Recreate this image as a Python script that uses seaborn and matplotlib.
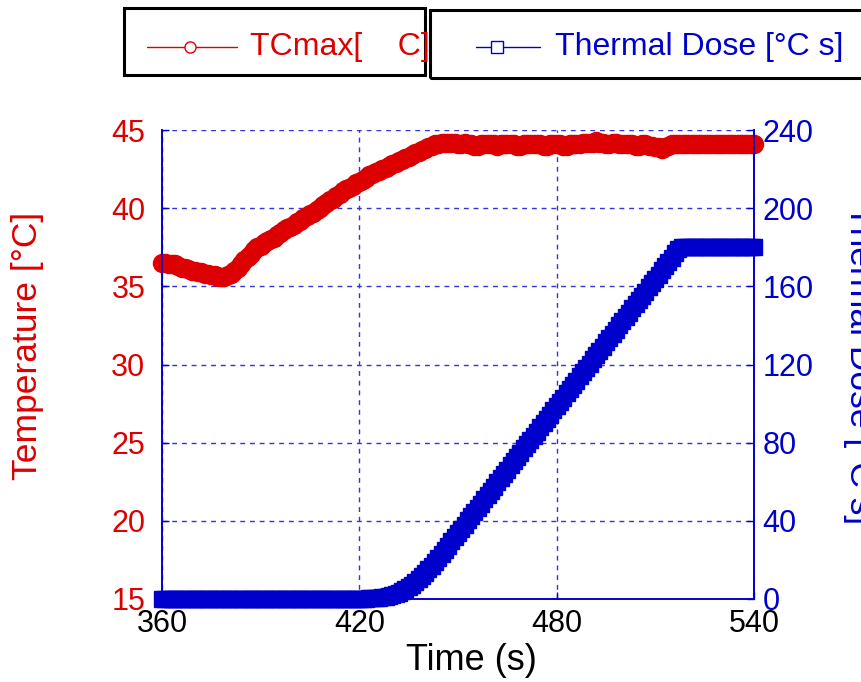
import numpy as np
import pandas as pd
import matplotlib
matplotlib.use("Agg")
import matplotlib.pyplot as plt
import seaborn as sns
from matplotlib.lines import Line2D
from matplotlib.patches import Rectangle

# ---------------- data (1 s sampling) ----------------
time_s = list(range(360, 541))

tc_max = (
    [36.5, 36.5, 36.4, 36.4, 36.4, 36.3, 36.2, 36.2, 36.1, 36.0,          # 360-369
     36.0, 35.9, 35.9, 35.8, 35.8, 35.7, 35.7, 35.6, 35.6,                # 370-378
     35.6, 35.7, 35.8, 36.0, 36.2, 36.4, 36.7, 36.9, 37.1, 37.3,          # 379-388
     37.5, 37.6, 37.8, 37.9, 38.0, 38.1, 38.3, 38.4, 38.6, 38.7, 38.8,    # 389-399
     38.9, 39.1, 39.2, 39.4, 39.5, 39.6, 39.7, 39.9, 40.0, 40.2,          # 400-409
     40.3, 40.5, 40.6, 40.8, 40.9, 41.1, 41.2, 41.3, 41.4, 41.6,          # 410-419
     41.7, 41.8, 41.9, 42.1, 42.2, 42.3, 42.4, 42.5, 42.6, 42.7,          # 420-429
     42.8, 42.9, 43.0, 43.1, 43.2, 43.3, 43.4, 43.5, 43.6, 43.7,          # 430-439
     43.8, 43.9, 44.0, 44.1, 44.1, 44.2, 44.2, 44.2, 44.2, 44.2,          # 440-449
     44.1, 44.1, 44.2, 44.1, 44.1, 44.0, 44.0, 44.1, 44.1, 44.1,          # 450-459
     44.1, 44.1, 44.0, 44.1, 44.1, 44.1, 44.1, 44.1, 44.0, 44.0,          # 460-469
     44.1, 44.1, 44.1, 44.1, 44.1, 44.1, 44.0, 44.0, 44.1, 44.1,          # 470-479
     44.1, 44.1, 44.0, 44.0, 44.1, 44.1, 44.1, 44.1, 44.2, 44.2,          # 480-489
     44.2, 44.2, 44.3, 44.2, 44.2, 44.1, 44.1, 44.2, 44.2, 44.1,          # 490-499
     44.1, 44.1, 44.1, 44.1, 44.0, 44.0, 44.1, 44.1, 44.0, 44.0,          # 500-509
     43.9, 43.9, 43.8, 43.9, 44.0, 44.1, 44.1, 44.1, 44.1, 44.1]          # 510-519
    + [44.1] * 21                                                         # 520-540
)

thermal_dose = (
    [0.0] * 60                                                            # 360-419
    + [0.0, 0.1, 0.2, 0.3, 0.4, 0.5, 0.7, 0.9, 1.2, 1.6,                  # 420-429
       2.0, 2.6, 3.2, 4.0, 5.0, 6.1, 7.4, 8.7, 10.2, 11.7,                # 430-439
       13.4, 15.2, 17.0, 19.0, 21.0, 23.1, 25.2, 27.3, 29.5, 31.6,        # 440-449
       33.8, 35.9, 38.0, 40.2, 42.3, 44.5, 46.7, 48.8, 51.0, 53.2,        # 450-459
       55.4, 57.5, 59.7, 61.9, 64.0, 66.2, 68.4, 70.5, 72.7, 74.9,        # 460-469
       77.1, 79.2, 81.4, 83.6, 85.7, 87.9, 90.1, 92.2, 94.4, 96.6,        # 470-479
       98.8, 100.9, 103.1, 105.3, 107.4, 109.6, 111.8, 113.9, 116.1, 118.3,   # 480-489
       120.5, 122.6, 124.8, 127.0, 129.1, 131.3, 133.5, 135.6, 137.8, 140.0,  # 490-499
       142.2, 144.3, 146.5, 148.7, 150.8, 153.0, 155.2, 157.3, 159.5, 161.7,  # 500-509
       163.9, 166.0, 168.2, 170.4, 172.5, 174.7, 176.9, 179.0, 180.0, 180.0]  # 510-519
    + [180.0] * 21                                                        # 520-540
)

x_ticks = [360, 420, 480, 540]
temp_ticks = [15, 20, 25, 30, 35, 40, 45]
dose_ticks = [0, 40, 80, 120, 160, 200, 240]

temp_label = "Temperature [°C]"
dose_label = "Thermal Dose [°C s]"
time_label = "Time (s)"
legend_temp = "TCmax[    C]"
legend_dose = "Thermal Dose [°C s]"

# ---------------- style ----------------
RED = "#dd0000"
BLUE = "#0000cc"
GRID = "#3535d0"

sns.set_theme(style="white")
plt.rcParams["font.family"] = ["Liberation Sans", "DejaVu Sans"]

W, H = 862, 682
fig = plt.figure(figsize=(W / 100, H / 100), dpi=100)
fig.patch.set_facecolor("white")


def fx(px):
    return px / W


def fy(py):
    return 1 - py / H


ax = fig.add_axes([fx(162), fy(599), (754 - 162) / W, (599 - 130) / H])
ax2 = ax.twinx()

df = pd.DataFrame({"time": time_s, "temp": tc_max, "dose": thermal_dose})

sns.lineplot(data=df, x="time", y="temp", ax=ax, color=RED, marker="o",
             markersize=13, markeredgecolor=RED, markerfacecolor=RED,
             markeredgewidth=1, linewidth=1, clip_on=False,
             estimator=None, sort=False, legend=False, zorder=3)
sns.lineplot(data=df, x="time", y="dose", ax=ax2, color=BLUE, marker="s",
             markersize=12, markeredgecolor=BLUE, markerfacecolor=BLUE,
             markeredgewidth=1, linewidth=1, clip_on=False,
             estimator=None, sort=False, legend=False, zorder=3)

ax.set_xlim(360, 540)
ax.set_ylim(15, 45)
ax2.set_ylim(0, 240)
ax.set_xticks(x_ticks)
ax.set_yticks(temp_ticks)
ax2.set_yticks(dose_ticks)
ax.set_xlabel("")
ax.set_ylabel("")
ax2.set_ylabel("")

ax.grid(True, color=GRID, linestyle=(0, (3.5, 3.5)), linewidth=1.0)
ax2.grid(False)
ax.set_axisbelow(True)

for a in (ax, ax2):
    for name, sp in a.spines.items():
        sp.set_color(BLUE)
        sp.set_linewidth(1.2)
    a.spines["top"].set_visible(False)
    a.set_facecolor("none")

ax.tick_params(axis="y", left=True, direction="in", length=5, width=1,
               color=BLUE, labelcolor=RED, labelsize=22, pad=12)
ax.tick_params(axis="x", bottom=True, direction="in", length=5, width=1,
               color=BLUE, labelcolor="black", labelsize=22, pad=7)
ax2.tick_params(axis="y", right=True, direction="in", length=5, width=1,
                color=BLUE, labelcolor=BLUE, labelsize=22, pad=6)

# axis labels
fig.text(fx(28), fy(346), temp_label, rotation=90, ha="center", va="center",
         fontsize=25.5, color=RED)
fig.text(fx(843), fy(365), dose_label, rotation=270, ha="left", va="center",
         fontsize=25.5, color=BLUE)
fig.text(fx(471), fy(661), time_label, ha="center", va="center",
         fontsize=26, color="black")

# legends (two framed boxes at the top)
box1 = Rectangle((fx(124), fy(75)), (425 - 124) / W, (75 - 8) / H,
                 transform=fig.transFigure, fill=False, edgecolor="black",
                 linewidth=2.2, zorder=5)
box2 = Rectangle((fx(430), fy(78)), (872 - 430) / W, (78 - 10) / H,
                 transform=fig.transFigure, fill=False, edgecolor="black",
                 linewidth=2.2, zorder=5)
fig.add_artist(box1)
fig.add_artist(box2)

fig.add_artist(Line2D([fx(147), fx(237)], [fy(47), fy(47)],
                      transform=fig.transFigure, color=RED, linewidth=1, zorder=6))
fig.add_artist(Line2D([fx(190)], [fy(47)], transform=fig.transFigure,
                      marker="o", markersize=8, markerfacecolor="white",
                      markeredgecolor=RED, markeredgewidth=1, linestyle="none", zorder=7))
fig.text(fx(250), fy(47), legend_temp, ha="left", va="center", fontsize=23,
         color=RED, zorder=8)

fig.add_artist(Line2D([fx(476), fx(540)], [fy(47), fy(47)],
                      transform=fig.transFigure, color=BLUE, linewidth=1, zorder=6))
fig.add_artist(Line2D([fx(497)], [fy(47)], transform=fig.transFigure,
                      marker="s", markersize=8, markerfacecolor="white",
                      markeredgecolor=BLUE, markeredgewidth=1, linestyle="none", zorder=7))
fig.text(fx(555), fy(47), legend_dose, ha="left", va="center", fontsize=23,
         color=BLUE, zorder=8)

fig.savefig("out.png", dpi=100, facecolor="white")
